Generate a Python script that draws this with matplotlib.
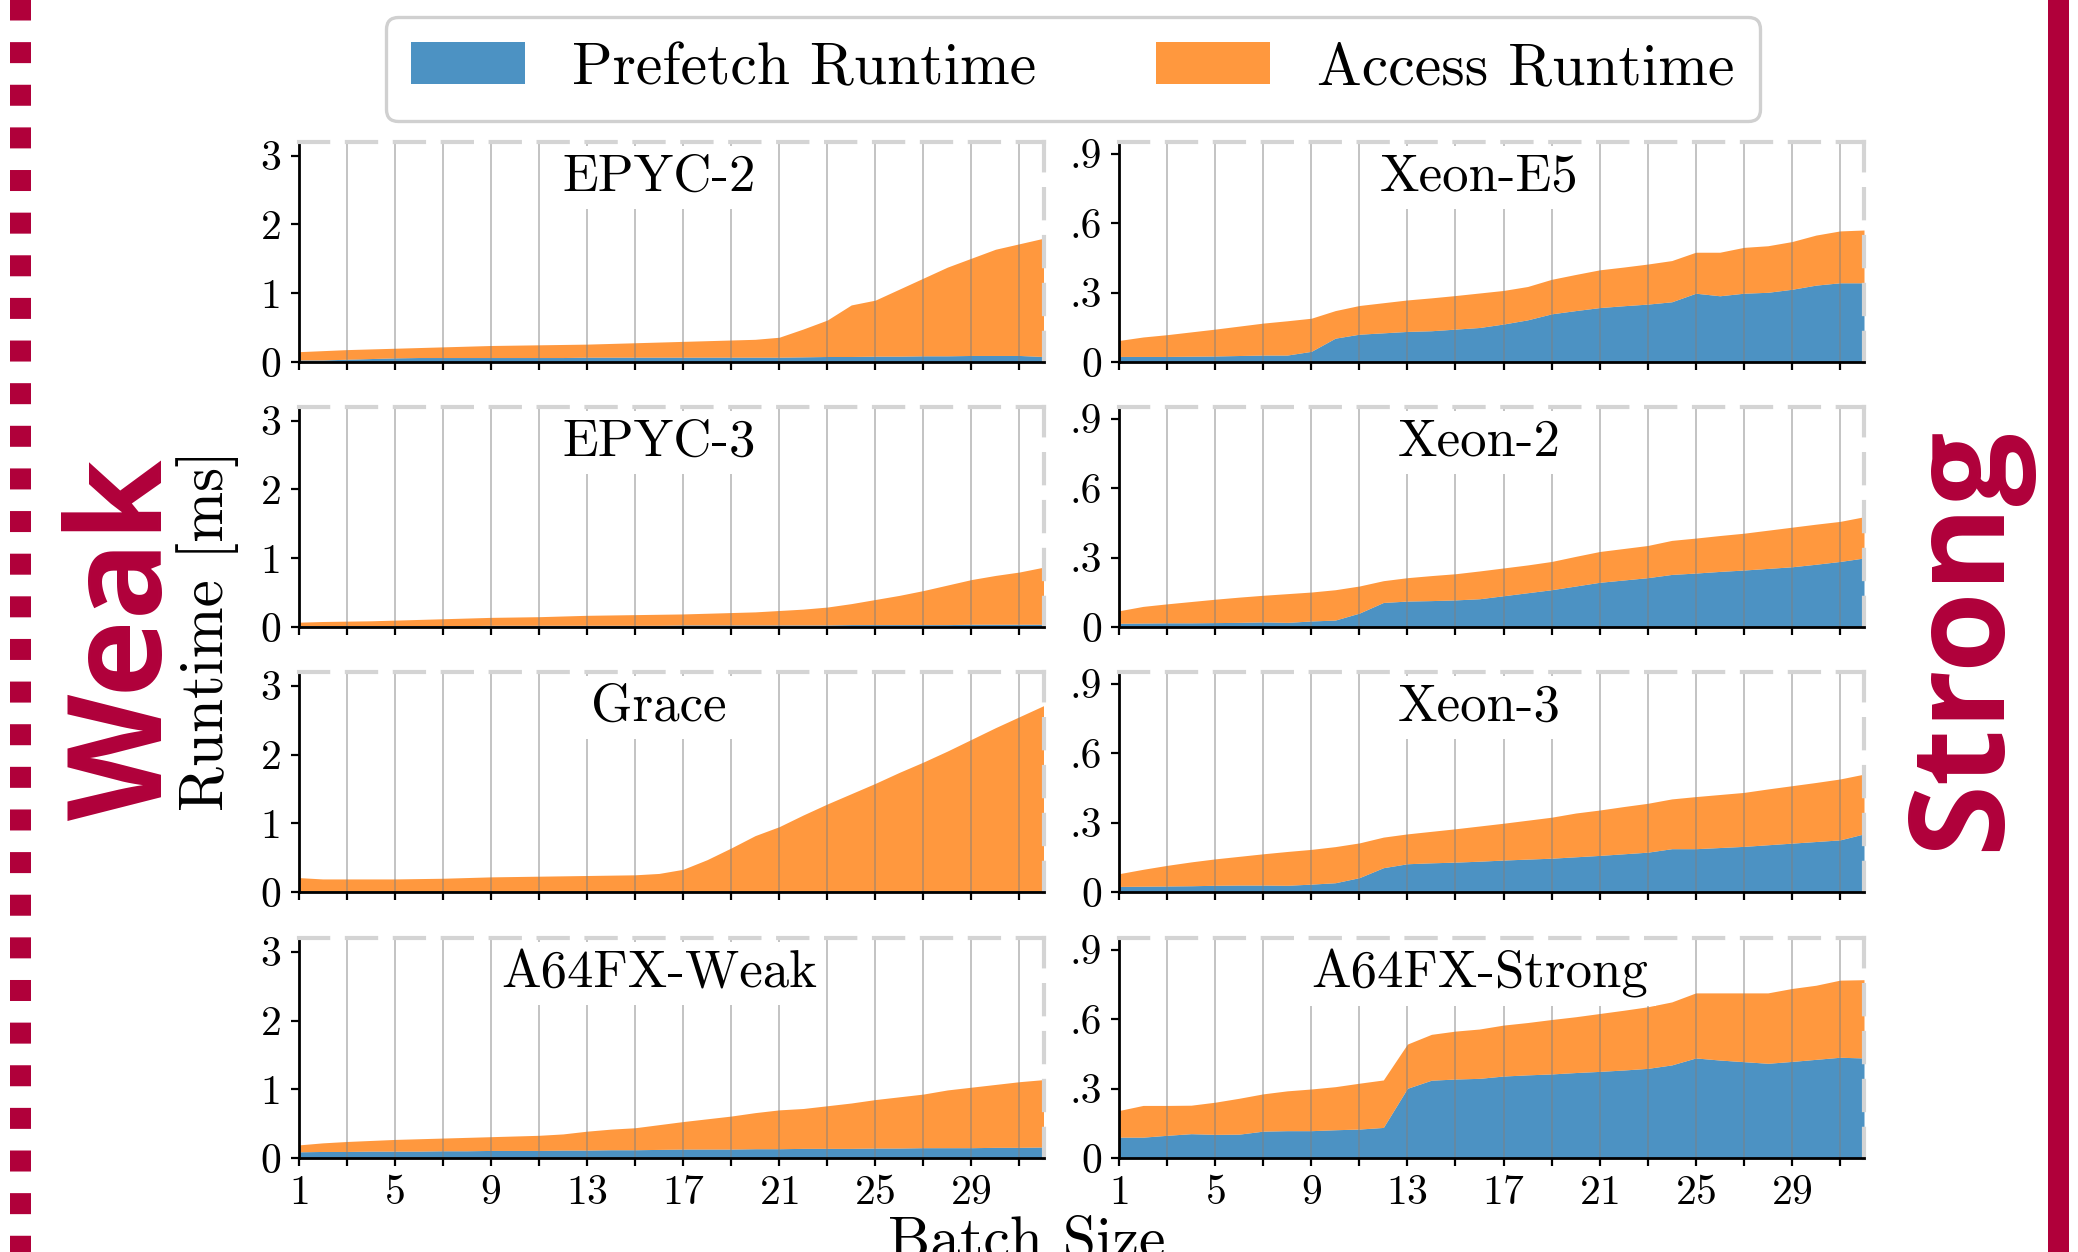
import matplotlib
matplotlib.use('Agg')
import matplotlib.pyplot as plt
from matplotlib.lines import Line2D
from matplotlib.patches import Patch
import matplotlib.transforms as mtransforms

plt.rcParams['font.family'] = 'cmr10'
plt.rcParams['axes.formatter.use_mathtext'] = True
plt.rcParams['mathtext.fontset'] = 'cm'

# ---------------- data ----------------
batch = list(range(1, 33))

epyc2_pref = [0.03, 0.03, 0.04, 0.05, 0.06, 0.065, 0.065, 0.065, 0.065, 0.065, 0.065, 0.065, 0.07, 0.07, 0.07, 0.07,
              0.07, 0.07, 0.07, 0.07, 0.07, 0.075, 0.08, 0.08, 0.085, 0.085, 0.09, 0.09, 0.095, 0.095, 0.095, 0.08]
epyc2_total = [0.15, 0.165, 0.18, 0.19, 0.20, 0.21, 0.22, 0.23, 0.24, 0.245, 0.25, 0.255, 0.26, 0.27, 0.28, 0.29,
               0.30, 0.31, 0.32, 0.33, 0.36, 0.48, 0.61, 0.83, 0.90, 1.06, 1.22, 1.38, 1.51, 1.64, 1.72, 1.80]

epyc3_pref = [0.02, 0.02, 0.02, 0.02, 0.02, 0.02, 0.02, 0.02, 0.025, 0.025, 0.025, 0.025, 0.025, 0.025, 0.025, 0.025,
              0.03, 0.03, 0.03, 0.03, 0.03, 0.03, 0.03, 0.035, 0.035, 0.035, 0.035, 0.035, 0.04, 0.04, 0.04, 0.04]
epyc3_total = [0.07, 0.08, 0.085, 0.09, 0.10, 0.11, 0.12, 0.13, 0.14, 0.145, 0.15, 0.16, 0.17, 0.175, 0.18, 0.185,
               0.19, 0.20, 0.21, 0.22, 0.24, 0.26, 0.29, 0.34, 0.40, 0.46, 0.53, 0.61, 0.69, 0.75, 0.80, 0.87]

grace_pref = [0.012, 0.012, 0.012, 0.012, 0.012, 0.012, 0.012, 0.012, 0.012, 0.012, 0.012, 0.012, 0.012, 0.012, 0.012, 0.012,
              0.012, 0.012, 0.012, 0.012, 0.012, 0.012, 0.012, 0.012, 0.012, 0.012, 0.012, 0.012, 0.012, 0.012, 0.012, 0.012]
grace_total = [0.21, 0.19, 0.19, 0.19, 0.19, 0.195, 0.20, 0.21, 0.22, 0.225, 0.23, 0.235, 0.24, 0.245, 0.25, 0.27,
               0.33, 0.47, 0.64, 0.82, 0.95, 1.12, 1.28, 1.43, 1.58, 1.74, 1.89, 2.05, 2.22, 2.39, 2.55, 2.71]

a64w_pref = [0.09, 0.095, 0.095, 0.10, 0.10, 0.10, 0.105, 0.105, 0.11, 0.11, 0.11, 0.115, 0.115, 0.12, 0.12, 0.125,
             0.13, 0.13, 0.13, 0.135, 0.135, 0.14, 0.14, 0.14, 0.145, 0.145, 0.15, 0.15, 0.15, 0.155, 0.155, 0.16]
a64w_total = [0.19, 0.22, 0.24, 0.255, 0.27, 0.28, 0.29, 0.30, 0.31, 0.32, 0.33, 0.35, 0.39, 0.42, 0.44, 0.485,
              0.53, 0.57, 0.61, 0.66, 0.70, 0.72, 0.76, 0.80, 0.85, 0.89, 0.93, 0.99, 1.03, 1.07, 1.11, 1.14]

xe5_pref = [0.024, 0.024, 0.024, 0.025, 0.026, 0.028, 0.030, 0.030, 0.046, 0.103, 0.120, 0.126, 0.132, 0.135, 0.142, 0.149,
            0.164, 0.182, 0.208, 0.222, 0.235, 0.243, 0.250, 0.260, 0.297, 0.286, 0.297, 0.301, 0.314, 0.332, 0.342, 0.342]
xe5_total = [0.093, 0.108, 0.118, 0.130, 0.142, 0.155, 0.168, 0.178, 0.189, 0.222, 0.244, 0.256, 0.268, 0.277, 0.287, 0.298,
             0.309, 0.326, 0.357, 0.378, 0.398, 0.410, 0.423, 0.438, 0.474, 0.474, 0.495, 0.502, 0.520, 0.548, 0.566, 0.570]

xeon2_pref = [0.016, 0.017, 0.018, 0.018, 0.019, 0.020, 0.022, 0.020, 0.026, 0.030, 0.060, 0.106, 0.112, 0.114, 0.117, 0.122,
              0.135, 0.148, 0.161, 0.177, 0.193, 0.203, 0.213, 0.227, 0.233, 0.240, 0.246, 0.253, 0.260, 0.271, 0.283, 0.298]
xeon2_total = [0.070, 0.089, 0.100, 0.110, 0.120, 0.129, 0.137, 0.144, 0.151, 0.161, 0.177, 0.200, 0.213, 0.222, 0.230, 0.242,
               0.255, 0.268, 0.283, 0.305, 0.326, 0.339, 0.352, 0.374, 0.384, 0.395, 0.405, 0.418, 0.431, 0.444, 0.456, 0.476]

xeon3_pref = [0.024, 0.025, 0.026, 0.027, 0.029, 0.030, 0.030, 0.029, 0.034, 0.040, 0.062, 0.105, 0.122, 0.126, 0.129, 0.133,
              0.138, 0.142, 0.146, 0.152, 0.158, 0.165, 0.172, 0.187, 0.187, 0.192, 0.197, 0.204, 0.211, 0.218, 0.225, 0.251]
xeon3_total = [0.079, 0.098, 0.115, 0.130, 0.143, 0.154, 0.165, 0.175, 0.184, 0.196, 0.212, 0.237, 0.251, 0.262, 0.273, 0.285,
               0.297, 0.310, 0.323, 0.341, 0.354, 0.369, 0.383, 0.402, 0.412, 0.421, 0.430, 0.445, 0.459, 0.473, 0.488, 0.509]

a64s_pref = [0.090, 0.090, 0.098, 0.105, 0.102, 0.103, 0.116, 0.118, 0.118, 0.122, 0.125, 0.132, 0.301, 0.336, 0.341, 0.344,
             0.354, 0.359, 0.363, 0.369, 0.374, 0.380, 0.387, 0.402, 0.432, 0.423, 0.416, 0.409, 0.417, 0.426, 0.435, 0.432]
a64s_total = [0.205, 0.227, 0.227, 0.228, 0.241, 0.258, 0.277, 0.290, 0.298, 0.308, 0.323, 0.337, 0.492, 0.534, 0.548, 0.557,
              0.574, 0.585, 0.598, 0.610, 0.624, 0.638, 0.653, 0.674, 0.713, 0.713, 0.713, 0.713, 0.732, 0.746, 0.768, 0.770]

weak_names = ['EPYC-2', 'EPYC-3', 'Grace', 'A64FX-Weak']
strong_names = ['Xeon-E5', 'Xeon-2', 'Xeon-3', 'A64FX-Strong']
weak_data = [(epyc2_pref, epyc2_total), (epyc3_pref, epyc3_total), (grace_pref, grace_total), (a64w_pref, a64w_total)]
strong_data = [(xe5_pref, xe5_total), (xeon2_pref, xeon2_total), (xeon3_pref, xeon3_total), (a64s_pref, a64s_total)]

weak_yticks = [0, 1, 2, 3]
weak_yticklabels = ['0', '1', '2', '3']
strong_yticks = [0, 0.3, 0.6, 0.9]
strong_yticklabels = ['0', '.3', '.6', '.9']
xticks_major = [1, 5, 9, 13, 17, 21, 25, 29]
xticks_minor = [3, 7, 11, 15, 19, 23, 27, 31]
legend_labels = ['Prefetch Runtime', 'Access Runtime']

# ---------------- style ----------------
BLUE = '#1f77b4'
ORANGE = '#ff7f0e'
RED = '#b0003a'
W, H = 2078, 1252
DPI = 200

fig = plt.figure(figsize=(W / DPI, H / DPI), dpi=DPI)

col_left = [298.5, 1119.0]
col_w = 745.0
row_zero_px = [362.0, 627.0, 892.0, 1158.0]
row_h = 220.0


def make_panel(col, row, name, pref, total, ytop, yt, ytl):
    l = col_left[col]
    b = row_zero_px[row]
    ax = fig.add_axes([l / W, 1 - b / H, col_w / W, row_h / H])
    ax.fill_between(batch, 0, pref, color=BLUE, alpha=0.8, lw=0, zorder=1)
    ax.fill_between(batch, pref, total, color=ORANGE, alpha=0.8, lw=0, zorder=1)
    ax.set_xlim(1, 32)
    ax.set_ylim(0, ytop)
    ax.set_xticks(xticks_major)
    ax.set_xticks(xticks_minor, minor=True)
    ax.set_yticks(yt)
    ax.set_yticklabels(ytl)
    ax.set_axisbelow('line')
    ax.grid(True, axis='x', which='both', color='#7f7f7f', alpha=0.55, lw=0.6)
    ax.grid(False, axis='y')
    ax.tick_params(axis='both', which='both', direction='out', length=2.8, width=0.8,
                   labelsize=15, pad=3.3, color='black')
    if row != 3:
        ax.tick_params(axis='x', which='both', labelbottom=False)
    for s in ['top', 'right']:
        ax.spines[s].set_color('#d4d4d4')
        ax.spines[s].set_linewidth(1.5)
        ax.spines[s].set_linestyle((0, (7, 4.5)))
    for s in ['left', 'bottom']:
        ax.spines[s].set_color('black')
        ax.spines[s].set_linewidth(1.0)
    trans = mtransforms.blended_transform_factory(ax.transData, ax.transAxes)
    ax.text(16, 1 - 49 / row_h, name, transform=trans, ha='center', va='baseline',
            fontsize=19, zorder=2,
            bbox=dict(facecolor='white', edgecolor='none', pad=3))
    return ax


for r in range(4):
    p, t = weak_data[r]
    make_panel(0, r, weak_names[r], p, t, 3.2, weak_yticks, weak_yticklabels)
    p, t = strong_data[r]
    make_panel(1, r, strong_names[r], p, t, 0.95, strong_yticks, strong_yticklabels)

handles = [Patch(facecolor=BLUE, alpha=0.8, lw=0), Patch(facecolor=ORANGE, alpha=0.8, lw=0)]
leg = fig.legend(handles, legend_labels, loc='upper center', bbox_to_anchor=(1073 / W, 1 - 17 / H),
                 ncol=2, fontsize=21.5, handlelength=1.9, handleheight=0.7, handletextpad=0.8,
                 columnspacing=2.0, frameon=True, fancybox=True, framealpha=1, borderpad=0.42,
                 borderaxespad=0)
leg.get_frame().set_edgecolor('#d0d0d0')
leg.get_frame().set_linewidth(1.2)

fig.text(208 / W, 1 - 630 / H, 'Runtime [ms]', rotation=90, ha='center', va='center', fontsize=22)
fig.text(1027 / W, -6 / H, 'Batch Size', ha='center', va='baseline', fontsize=21.5)

fig.text(128 / W, 1 - 640 / H, 'Weak', rotation=90, ha='center', va='center', fontsize=47,
         family='Open Sans', weight='bold', color=RED)
fig.text(1965 / W, 1 - 638 / H, 'Strong', rotation=90, ha='center', va='center', fontsize=47,
         family='Open Sans', weight='bold', color=RED)

lw_px = 21
lw_pt = lw_px * 72 / DPI
fig.add_artist(Line2D([19.5 / W, 19.5 / W], [1 + 20 / H, -0.02], transform=fig.transFigure,
                      color=RED, lw=lw_pt, linestyle=(0, (1, 1.03)), dash_capstyle='butt'))
fig.add_artist(Line2D([2057.5 / W, 2057.5 / W], [1.01, -0.01], transform=fig.transFigure,
                      color=RED, lw=lw_pt, solid_capstyle='butt'))

fig.savefig('out.png', dpi=DPI)
